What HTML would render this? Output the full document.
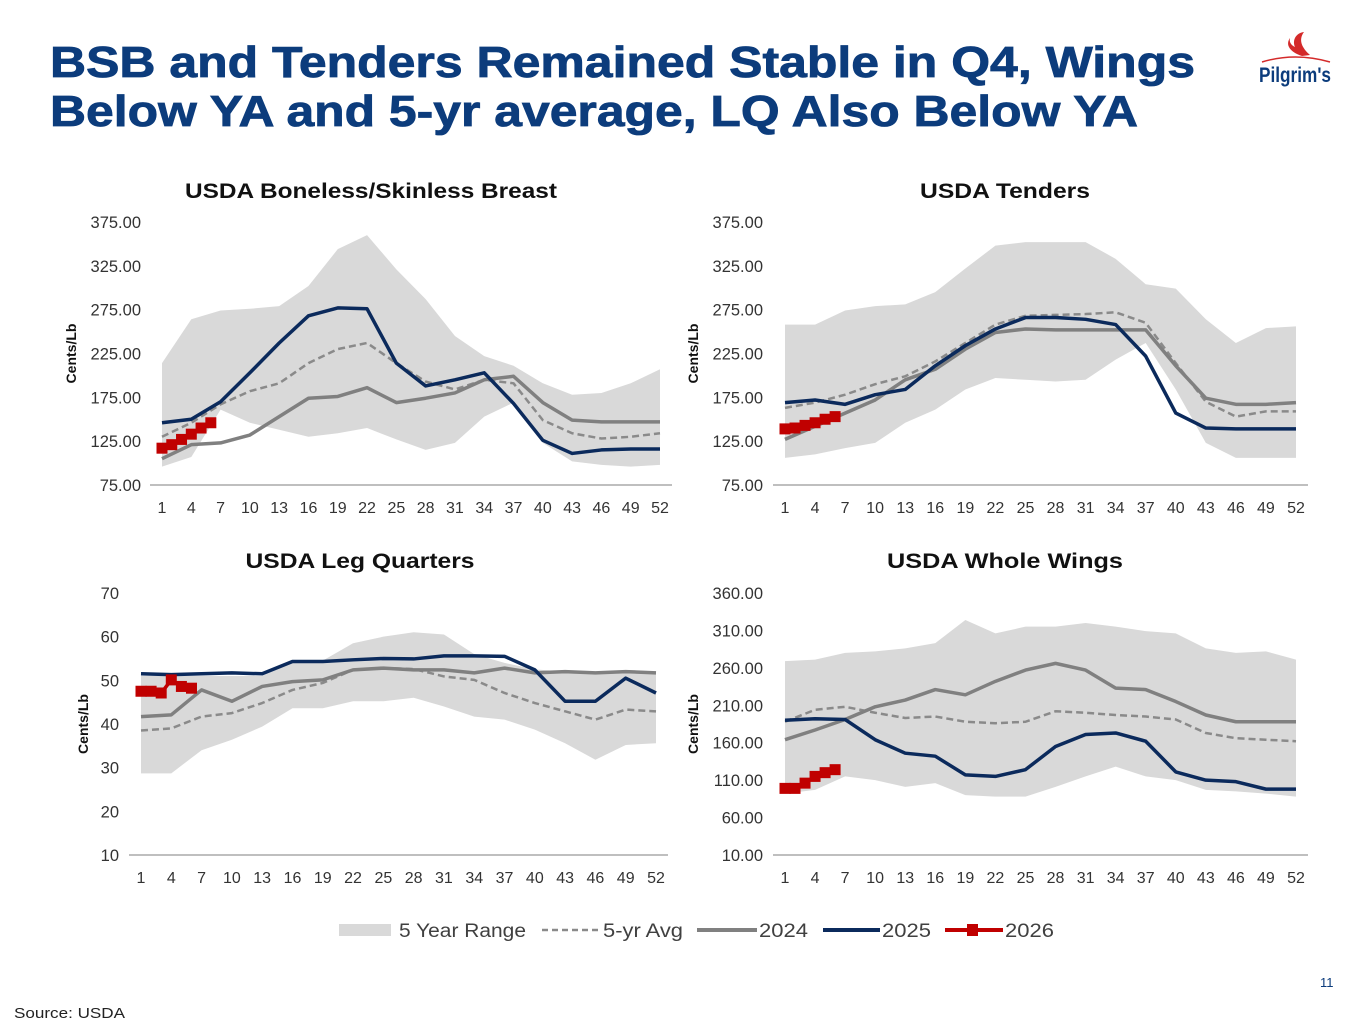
<!DOCTYPE html>
<html><head><meta charset="utf-8">
<style>
html,body{margin:0;padding:0;background:#fff;}
svg{display:block;font-family:"Liberation Sans",sans-serif;}
</style></head>
<body>
<svg id="page" width="1365" height="1024" viewBox="0 0 1365 1024" xmlns="http://www.w3.org/2000/svg">
  <text x="50" y="77" font-size="44" font-weight="bold" fill="#0c3c7c" stroke="#0c3c7c" stroke-width="0.8" textLength="1145" lengthAdjust="spacingAndGlyphs">BSB and Tenders Remained Stable in Q4, Wings</text>
  <text x="50" y="126" font-size="44" font-weight="bold" fill="#0c3c7c" stroke="#0c3c7c" stroke-width="0.8" textLength="1088" lengthAdjust="spacingAndGlyphs">Below YA and 5-yr average, LQ Also Below YA</text>
  <g>
    <path d="M1310 55 C1302 48 1298 40 1304 32 C1296 33 1292 40 1295 47 C1291 45 1289 42 1290 38 C1285 45 1290 52 1302 56 Z" fill="#d42a2a"/>
    <path d="M1262 62 Q1295 52 1330 62" stroke="#d42a2a" stroke-width="1.5" fill="none"/>
    <text x="1259" y="82" font-size="21" font-weight="bold" fill="#0c3c7c" textLength="72" lengthAdjust="spacingAndGlyphs">Pilgrim's</text>
  </g>
  <g id="charts"></g>
  <g font-size="19" fill="#404040">
    <rect x="339" y="924" width="52" height="12" fill="#d9d9d9"/>
    <text x="399" y="937" textLength="127" lengthAdjust="spacingAndGlyphs">5 Year Range</text>
    <line x1="542" y1="930" x2="600" y2="930" stroke="#8a8a8a" stroke-width="2.5" stroke-dasharray="6,4"/>
    <text x="603" y="937" textLength="80" lengthAdjust="spacingAndGlyphs">5-yr Avg</text>
    <line x1="697" y1="930" x2="757" y2="930" stroke="#808080" stroke-width="4"/>
    <text x="759" y="937" textLength="49" lengthAdjust="spacingAndGlyphs">2024</text>
    <line x1="823" y1="930" x2="880" y2="930" stroke="#0b2a5c" stroke-width="4"/>
    <text x="882" y="937" textLength="49" lengthAdjust="spacingAndGlyphs">2025</text>
    <line x1="945" y1="930" x2="1003" y2="930" stroke="#c00000" stroke-width="4"/>
    <rect x="967" y="924" width="11" height="12" fill="#c00000"/>
    <text x="1005" y="937" textLength="49" lengthAdjust="spacingAndGlyphs">2026</text>
  </g>
  <text x="1320" y="987" font-size="13" fill="#0c3c7c">11</text>
  <text x="14" y="1018" font-size="15" fill="#222" textLength="111" lengthAdjust="spacingAndGlyphs">Source: USDA</text>
</svg>
<script>
const weeks = [1,4,7,10,13,16,19,22,25,28,31,34,37,40,43,46,49,52];
const weeks2026 = [1,2,3,4,5,6];

const bsbHi = [214,264,274,276,279,302,344,360,321,287,245,222,211,191,178,180,191,207];
const bsbLo = [96,107,161,146,138,130,134,140,127,115,123,153,169,123,102,98,96,98];
const bsbAvg = [130,146,167,182,191,214,230,237,214,193,184,195,191,149,134,128,130,134];
const bsb2024 = [105,121,123,132,153,174,176,186,169,174,180,195,199,169,149,147,147,147];
const bsb2025 = [146,150,170,203,237,268,277,276,214,188,195,203,168,126,111,115,116,116];
const bsb2026 = [117,121,127,133,140,146];

const tenHi = [258,258,274,279,281,295,322,348,352,352,352,333,304,299,264,237,254,256];
const tenLo = [106,110,117,123,146,161,184,197,195,193,195,218,237,184,123,106,106,106];
const tenAvg = [163,169,178,190,199,216,237,258,268,269,270,272,260,214,170,153,159,159];
const ten2024 = [127,142,157,172,195,207,230,249,253,252,252,252,252,211,174,167,167,169];
const ten2025 = [169,172,167,178,184,211,234,253,266,266,264,258,222,157,140,139,139,139];
const ten2026 = [139,140,143,146,150,153];

const lqHi = [51,51,51,51,51,54,54.5,58.5,60,61,60.5,56,54,52.5,52,52,52,52];
const lqLo = [28.7,28.7,34,36.4,39.4,43.6,43.6,45.2,45.2,46,44,41.7,41,38.7,35.6,31.8,35.2,35.6];
const lqAvg = [38.5,39,41.7,42.5,44.8,47.8,49.4,52.4,52.8,52.6,50.9,50.1,47.1,44.8,42.9,41,43.3,42.9];
const lq2024 = [41.7,42.1,47.8,45.2,48.6,49.7,50.1,52.4,52.8,52.4,52.4,51.7,52.8,51.7,52,51.7,52,51.7];
const lq2025 = [51.5,51.3,51.5,51.7,51.5,54.3,54.3,54.7,55,54.9,55.6,55.6,55.5,52.4,45.2,45.2,50.5,47.1];
const lq2026 = [47.5,47.5,47.1,50.1,48.6,48.2];

const wingHi = [269,271,280,282,286,293,324,306,315,315,320,315,309,306,286,280,282,271];
const wingLo = [92,97,115,110,101,106,90,88,88,101,115,128,115,110,97,95,92,88];
const wingAvg = [188,204,208,200,193,195,188,186,188,202,200,197,195,191,173,166,164,162];
const wing2024 = [164,177,191,208,217,231,224,242,257,266,257,233,231,215,197,188,188,188];
const wing2025 = [190,192,191,164,146,142,117,115,124,155,171,173,162,121,110,108,98,98];
const wing2026 = [99,99,106,115,120,124];

const bsbTicks = ["75.00","125.00","175.00","225.00","275.00","325.00","375.00"];
const lqTicks = ["10","20","30","40","50","60","70"];
const wingTicks = ["10.00","60.00","110.00","160.00","210.00","260.00","310.00","360.00"];
const xTicks = [1,4,7,10,13,16,19,22,25,28,31,34,37,40,43,46,49,52];

const NS = "http://www.w3.org/2000/svg";
const root = document.getElementById('charts');
function mk(tag, attrs, parent){
  const e = document.createElementNS(NS, tag);
  for (const k in attrs) e.setAttribute(k, attrs[k]);
  parent.appendChild(e);
  return e;
}
function drawChart(cfg){
  const g = mk('g', {}, root);
  
  
  const x = w => cfg.x0 + (w - 1) * (cfg.x1 - cfg.x0) / 51;
  const y = v => cfg.yb - (v - cfg.vmin) * (cfg.yb - cfg.yt) / (cfg.vmax - cfg.vmin);
  const t = mk('text', {x: cfg.titleX, y: cfg.titleY, 'font-size': 21, 'font-weight': 'bold', fill: '#111', 'text-anchor': 'middle', textLength: cfg.titleW, lengthAdjust: 'spacingAndGlyphs'}, g);
  t.textContent = cfg.title;
  
  
  const yl = mk('text', {transform: `translate(${cfg.ylX},${(cfg.yt+cfg.yb)/2}) rotate(-90)`, 'font-size': 14, 'font-weight': 'bold', fill: '#111', 'text-anchor': 'middle'}, g);
  yl.textContent = 'Cents/Lb';
  
  
  cfg.ticks.forEach(s => {
    const tx = mk('text', {x: cfg.tickX, y: y(parseFloat(s)) + 6, 'font-size': 16.5, fill: '#333', 'text-anchor': 'end'}, g);
    tx.textContent = s;
    
    
  });
  xTicks.forEach(w => {
    const tx = mk('text', {x: x(w), y: cfg.yb + 28, 'font-size': 16, fill: '#333', 'text-anchor': 'middle'}, g);
    tx.textContent = w;
    
    
  });
  let d = cfg.hi.map((v,i) => (i ? 'L' : 'M') + x(weeks[i]) + ',' + y(v)).join(' ');
  for (let i = weeks.length - 1; i >= 0; i--) d += ' L' + x(weeks[i]) + ',' + y(cfg.lo[i]);
  const area = mk('path', {d: d + ' Z', fill: '#d9d9d9'}, g);
  
  
  const ax = mk('line', {x1: cfg.x0 - 12, x2: cfg.x1 + 12, y1: cfg.yb, y2: cfg.yb, stroke: '#999', 'stroke-width': 1.2}, g);
  
  
  const line = (vals, ws, attrs, name) => {
    const p = mk('polyline', Object.assign({points: vals.map((v,i) => x(ws[i]) + ',' + y(v)).join(' '), fill: 'none', 'stroke-linejoin': 'round'}, attrs), g);
    
    
  };
  line(cfg.avg, weeks, {stroke: '#8a8a8a', 'stroke-width': 2.5, 'stroke-dasharray': '7,4'}, 'five-year-avg-line');
  line(cfg.y24, weeks, {stroke: '#808080', 'stroke-width': 3.5}, 'line-2024');
  line(cfg.y25, weeks, {stroke: '#0b2a5c', 'stroke-width': 3.5}, 'line-2025');
  line(cfg.y26, weeks2026, {stroke: '#c00000', 'stroke-width': 3.5}, 'line-2026');
  cfg.y26.forEach((v,i) => {
    const r = mk('rect', {x: x(weeks2026[i]) - 5.5, y: y(v) - 5.5, width: 11, height: 11, fill: '#c00000'}, g);
    
    
  });
}
drawChart({id:'bsb', title:'USDA Boneless/Skinless Breast', titleX:371, titleW:372, titleY:198, ylX:76, tickX:141,
  x0:162, x1:660, yt:222, yb:485, vmin:75, vmax:375, ticks:bsbTicks,
  hi:bsbHi, lo:bsbLo, avg:bsbAvg, y24:bsb2024, y25:bsb2025, y26:bsb2026});
drawChart({id:'tenders', title:'USDA Tenders', titleX:1005, titleW:170, titleY:198, ylX:698, tickX:763,
  x0:785, x1:1296, yt:222, yb:485, vmin:75, vmax:375, ticks:bsbTicks,
  hi:tenHi, lo:tenLo, avg:tenAvg, y24:ten2024, y25:ten2025, y26:ten2026});
drawChart({id:'leg-quarters', title:'USDA Leg Quarters', titleX:360, titleW:229, titleY:568, ylX:88, tickX:119,
  x0:141, x1:656, yt:593, yb:855, vmin:10, vmax:70, ticks:lqTicks,
  hi:lqHi, lo:lqLo, avg:lqAvg, y24:lq2024, y25:lq2025, y26:lq2026});
drawChart({id:'whole-wings', title:'USDA Whole Wings', titleX:1005, titleW:236, titleY:568, ylX:698, tickX:763,
  x0:785, x1:1296, yt:593, yb:855, vmin:10, vmax:360, ticks:wingTicks,
  hi:wingHi, lo:wingLo, avg:wingAvg, y24:wing2024, y25:wing2025, y26:wing2026});
</script>
</body></html>
